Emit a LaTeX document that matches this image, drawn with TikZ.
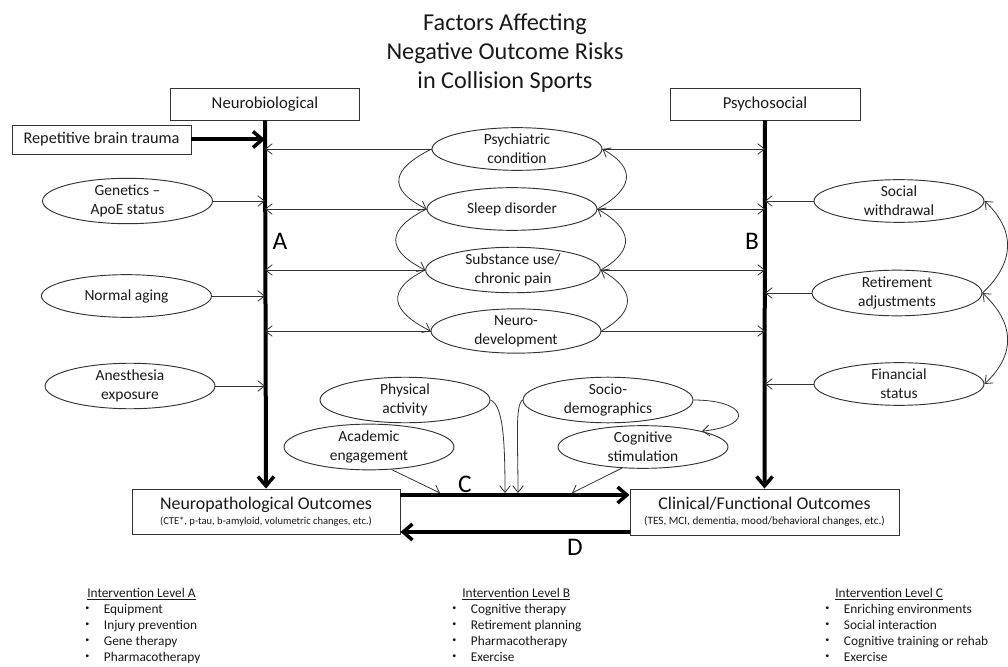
\documentclass[tikz,border=0pt]{standalone}
\usepackage{fontspec}
\setmainfont{Carlito}
\usetikzlibrary{arrows.meta,shapes.geometric}
\newcommand{\mybul}{\raisebox{1.6pt}{\fontsize{6}{6}\selectfont\textbullet}}
\begin{document}
\begin{tikzpicture}[x=0.75pt,y=-0.75pt,
  lc/.style={draw=black!80, line width=0.7pt},
  box/.style={lc, rectangle, inner sep=0pt, align=center, text=black!90},
  ell/.style={lc, ellipse, inner sep=0pt, minimum width=127.5pt, minimum height=32pt, align=center,
     font=\fontsize{11.6}{14.2}\selectfont, text=black!90},
  thinarr/.style={draw=black!80, line width=0.6pt, -{Straight Barb[length=5pt,width=8pt]}},
  bigarr/.style={draw=black, line width=3pt, -{Straight Barb[length=7pt,width=12pt,line width=2.6pt]}},
  biglbl/.style={font=\fontsize{19}{20}\selectfont, inner sep=0pt},
  lst/.style={anchor=base west, inner sep=0pt, font=\fontsize{10}{12}\selectfont, text=black!90}
]
\useasboundingbox (0,0) rectangle (1008,667);

% title
\node[font=\fontsize{18.2}{21.75}\selectfont, align=center, text=black!90] (title) at (505,53)
  {Factors Affecting\\Negative Outcome Risks\\in Collision Sports};

% header boxes
\node[box, minimum width=141.75pt, minimum height=24pt, font=\fontsize{12.5}{14}\selectfont] (nb) at (265,104) {Neurobiological};
\node[box, minimum width=142.5pt, minimum height=24pt, font=\fontsize{12.5}{14}\selectfont] (ps) at (765,104) {Psychosocial};
\node[box, minimum width=134.25pt, minimum height=21.75pt, font=\fontsize{12.2}{14}\selectfont] (rbt) at (101.5,139.5) {Repetitive brain trauma};

% outcome boxes
\node[box, minimum width=201pt, minimum height=33.75pt] (np) at (266,511.5)
  {{\fontsize{13.4}{15}\selectfont Neuropathological Outcomes}\\[-1pt]{\fontsize{7.9}{9}\selectfont (CTE*, p-tau, b-amyloid, volumetric changes, etc.)}};
\node[box, minimum width=201.75pt, minimum height=34.5pt] (cf) at (764.5,512)
  {{\fontsize{13.4}{15}\selectfont Clinical/Functional Outcomes}\\[-1pt]{\fontsize{8.4}{9}\selectfont (TES, MCI, dementia, mood/behavioral changes, etc.)}};

% left ellipses
\node[ell] (gen) at (127.5,201) {Genetics --\\ApoE status};
\node[ell] (age) at (126.5,296) {Normal aging};
\node[ell] (ane) at (130,386) {Anesthesia\\exposure};

% middle ellipses
\node[ell] (psy) at (517,149) {Psychiatric\\condition};
\node[ell] (slp) at (512,209) {Sleep disorder};
\node[ell, minimum width=131pt] (sub) at (513,270) {Substance use/\\chronic pain};
\node[ell] (neu) at (516,331) {Neuro-\\development};

% right ellipses
\node[ell] (soc) at (899,201) {Social\\withdrawal};
\node[ell] (ret) at (897,293) {Retirement\\adjustments};
\node[ell] (fin) at (899,384) {Financial\\status};

% bottom ellipses
\node[ell] (phy) at (405,400) {Physical\\activity};
\node[ell] (aca) at (369,447) {Academic\\engagement};
\node[ell] (sdm) at (608,400) {Socio-\\demographics};
\node[ell] (cog) at (643,447) {Cognitive\\stimulation};

% vertical main arrows
\draw[bigarr] (nb.south) -- (np.north);
\draw[bigarr] (ps.south) -- (cf.north);
\draw[bigarr] (rbt.east) -- (rbt.east -| nb.south);

% C and D
\coordinate (cy) at (0,495);
\coordinate (dy) at (0,532);
\draw[bigarr] (np.east |- cy) -- (cf.west |- cy);
\draw[bigarr] (cf.west |- dy) -- (np.east |- dy);
\node[biglbl] (lc) at (465,484) {C};
\node[biglbl] (ld) at (575,547) {D};
\node[biglbl] (la) at (280,241) {A};
\node[biglbl] (lb) at (752,241) {B};

% arrows to A
\draw[thinarr] (gen.east) -- (gen.east -| nb.south);
\draw[thinarr] (age.east) -- (age.east -| nb.south);
\draw[thinarr] (ane.east) -- (ane.east -| nb.south);
\draw[thinarr] (psy.west) -- (psy.west -| nb.south);
\draw[thinarr] (slp.west) -- (slp.west -| nb.south);
\draw[thinarr] (sub.west) -- (sub.west -| nb.south);
\draw[thinarr] (neu.west) -- (neu.west -| nb.south);

% arrows to B
\draw[thinarr] (psy.east) -- (psy.east -| ps.south);
\draw[thinarr] (slp.east) -- (slp.east -| ps.south);
\draw[thinarr] (sub.east) -- (sub.east -| ps.south);
\draw[thinarr] (neu.east) -- (neu.east -| ps.south);
\draw[thinarr] (soc.west) -- (soc.west -| ps.south);
\draw[thinarr] (ret.west) -- (ret.west -| ps.south);
\draw[thinarr] (fin.west) -- (fin.west -| ps.south);

% loops between middle ellipses
\draw[thinarr] (psy.west) .. controls +(-40,20) and +(-40,-20) .. (slp.west);
\draw[thinarr] (slp.west) .. controls +(-40,20) and +(-40,-20) .. (sub.west);
\draw[thinarr] (sub.west) .. controls +(-40,20) and +(-40,-20) .. (neu.west);
\draw[thinarr] (slp.east) .. controls +(35,-20) and +(35,20) .. (psy.east);
\draw[thinarr] (sub.east) .. controls +(35,-20) and +(35,20) .. (slp.east);
\draw[thinarr] (neu.east) .. controls +(35,-20) and +(35,20) .. (sub.east);

% loops on right
\draw[thinarr] (ret.east) .. controls +(32,-30) and +(32,30) .. (soc.east);
\draw[thinarr, {Straight Barb[length=5pt,width=8pt]}-{Straight Barb[length=5pt,width=8pt]}] (ret.east) .. controls +(32,30) and +(32,-30) .. (fin.east);

% bottom arrows onto C
\coordinate (c1) at (440,493);
\coordinate (c2) at (505,493);
\coordinate (c3) at (518,493);
\coordinate (c4) at (572,493);
\draw[thinarr] (aca.-45) -- (c1);
\draw[thinarr] (phy.east) .. controls (503,405) and (505,440) .. (c2);
\draw[thinarr] (sdm.west) .. controls (515,405) and (518,440) .. (c3);
\draw[thinarr] (cog.-135) -- (c4);
\draw[thinarr] (sdm.east) .. controls (745,400) and (758,425) .. (cog.15);

% intervention lists
\node[lst] (ia) at (85,597) {\begin{tabular}[t]{@{}l@{\hspace{11pt}}l@{}}
 \multicolumn{2}{@{\hspace{1.5pt}}l}{\underline{Intervention Level A}}\\
 \mybul & Equipment\\
 \mybul & Injury prevention\\
 \mybul & Gene therapy\\
 \mybul & Pharmacotherapy
\end{tabular}};
\node[lst] (ib) at (452,597) {\begin{tabular}[t]{@{}l@{\hspace{11pt}}l@{}}
 \multicolumn{2}{@{\hspace{7.5pt}}l}{\underline{Intervention Level B}}\\
 \mybul & Cognitive therapy\\
 \mybul & Retirement planning\\
 \mybul & Pharmacotherapy\\
 \mybul & Exercise
\end{tabular}};
\node[lst] (ic) at (825,597) {\begin{tabular}[t]{@{}l@{\hspace{11pt}}l@{}}
 \multicolumn{2}{@{\hspace{7.5pt}}l}{\underline{Intervention Level C}}\\
 \mybul & Enriching environments\\
 \mybul & Social interaction\\
 \mybul & Cognitive training or rehab\\
 \mybul & Exercise
\end{tabular}};
\end{tikzpicture}
\end{document}
